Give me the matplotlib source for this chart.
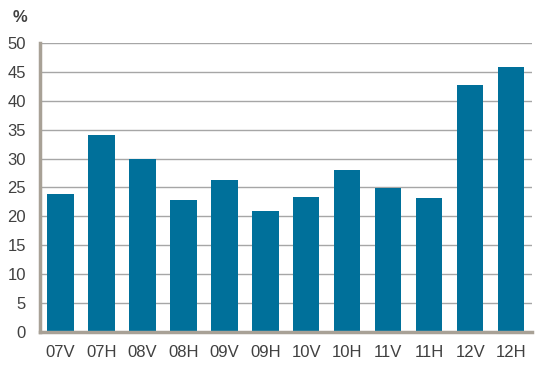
import matplotlib
matplotlib.use("Agg")
import matplotlib.pyplot as plt

# Half-year periods (V = kevät, H = syksy) and values in %
periods = ['07V', '07H', '08V', '08H', '09V', '09H',
           '10V', '10H', '11V', '11H', '12V', '12H']
values = [23.8, 34.0, 30.0, 22.8, 26.2, 21.0,
          23.3, 28.1, 24.9, 23.1, 42.7, 45.8]
yticks = [0, 5, 10, 15, 20, 25, 30, 35, 40, 45, 50]

plt.rcParams['font.family'] = ['Liberation Sans', 'DejaVu Sans']

fig = plt.figure(figsize=(5.58, 3.76), dpi=100)
ax = fig.add_axes([0.0717, 0.117, 0.8813, 0.769])

ax.bar(range(len(periods)), values, width=0.64, color='#00709A', zorder=3)

ax.set_xlim(-0.5, len(periods) - 0.5)
ax.set_ylim(0, 50)
ax.set_yticks(yticks)
ax.set_xticks(range(len(periods)))
ax.set_xticklabels(periods)
ax.yaxis.grid(True, color='#A6A6A6', linewidth=1.0, zorder=0)
ax.set_axisbelow(True)

for side in ['top', 'right']:
    ax.spines[side].set_visible(False)
for side in ['left', 'bottom']:
    ax.spines[side].set_color('#A8A196')
    ax.spines[side].set_linewidth(2.5)
    ax.spines[side].set_zorder(4)

ax.tick_params(axis='both', length=0, labelsize=12, labelcolor='#404040')
ax.tick_params(axis='y', pad=10)
ax.tick_params(axis='x', pad=9)

fig.text(0.023, 0.953, '%', fontsize=12, color='#404040',
         fontweight='bold', ha='left', va='center')

fig.savefig('out.png', dpi=100)
